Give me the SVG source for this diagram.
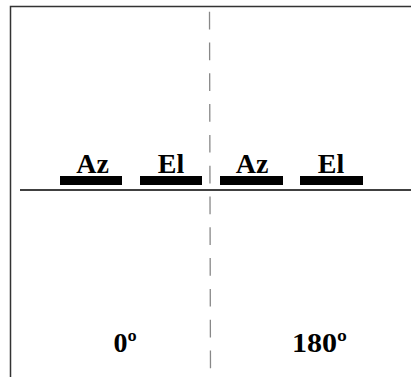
<svg xmlns="http://www.w3.org/2000/svg" width="411" height="377" viewBox="0 0 411 377">
<style>
.t{font-family:"Liberation Serif","Times New Roman",serif;font-weight:bold;font-size:28px;fill:#000;text-anchor:middle}
.bar{fill:#000}
</style>
<rect width="411" height="377" fill="#fff"/>
<g id="frame">
<path d="M10.5 377 V6.5 H411" fill="none" stroke="#333" stroke-width="1.5"/>
</g>
<g id="connectors">
<line x1="209.5" y1="11.7" x2="210.5" y2="377" stroke="#888" stroke-width="1.3" stroke-dasharray="17.7 13.1"/>
<line x1="20" y1="190" x2="411" y2="190" stroke="#000" stroke-width="1.6"/>
</g>
<g id="az1"><rect class="bar" x="60" y="176" width="62" height="9"/><text class="t" x="92.5" y="173">Az</text></g>
<g id="el1"><rect class="bar" x="140" y="176" width="62" height="9"/><text class="t" x="171" y="173">El</text></g>
<g id="az2"><rect class="bar" x="220" y="176" width="63" height="9"/><text class="t" x="252" y="173">Az</text></g>
<g id="el2"><rect class="bar" x="300" y="176" width="63" height="9"/><text class="t" x="331" y="173">El</text></g>
<g id="deg0"><text class="t" x="125" y="352">0º</text></g>
<g id="deg180"><text class="t" x="319.5" y="352" textLength="55" lengthAdjust="spacingAndGlyphs">180º</text></g>
</svg>
